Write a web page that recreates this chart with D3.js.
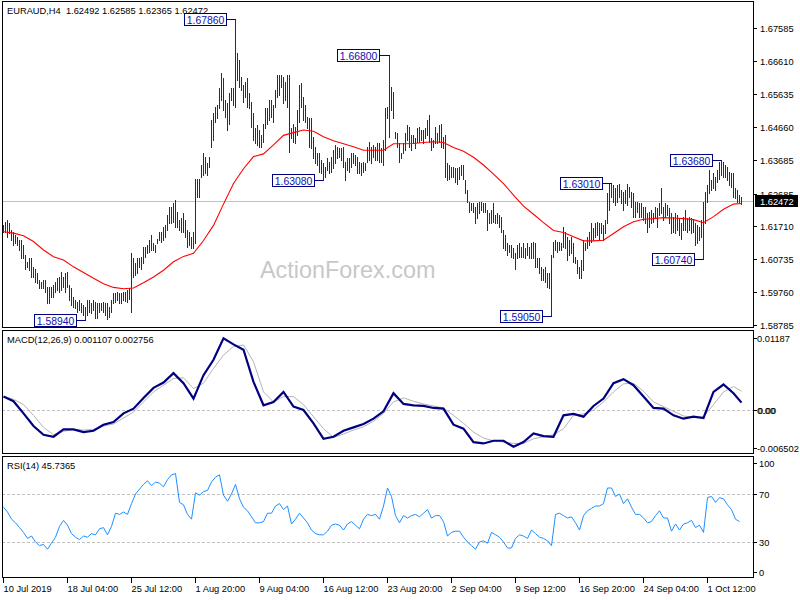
<!DOCTYPE html>
<html><head><meta charset="utf-8">
<script src="https://cdn.jsdelivr.net/npm/d3@7"></script>
<style>
body{margin:0;background:#fff}
svg{display:block}
text{font-family:"Liberation Sans",Arial,sans-serif}
</style>
</head><body>
<svg id="c" width="800" height="600"></svg>
<script>
// ---------------- DATA ----------------
const symbolTitle = "EURAUD,H4  1.62492 1.62585 1.62365 1.62472";
const lastPrice = 1.62472;
const highs = [
1.6175,1.6185,1.6190,1.6180,1.6160,1.6155,1.6145,1.6140,1.6130,1.6130,
1.6116,1.6086,1.6066,1.6076,1.6076,1.6051,1.6046,1.6032,1.6012,1.6007,
1.6012,1.6012,1.5992,1.5992,1.5992,1.5997,1.6007,1.6017,1.6022,1.6036,
1.6022,1.6032,1.6036,1.5997,1.5987,1.5962,1.5953,1.5948,1.5953,1.5943,
1.5938,1.5933,1.5953,1.5953,1.5943,1.5953,1.5948,1.5943,1.5943,1.5945,
1.5948,1.5943,1.5943,1.5933,1.5953,1.5972,1.5972,1.5977,1.5974,1.5972,
1.5977,1.5977,1.5982,1.5987,1.6091,1.6076,1.6061,1.6076,1.6076,1.6081,
1.6111,1.6111,1.6116,1.6130,1.6145,1.6121,1.6116,1.6135,1.6155,1.6155,
1.6170,1.6175,1.6205,1.6229,1.6229,1.6239,1.6249,1.6215,1.6190,1.6195,
1.6210,1.6190,1.6160,1.6155,1.6140,1.6155,1.6313,1.6313,1.6313,1.6353,
1.6388,1.6378,1.6358,1.6378,1.6486,1.6506,1.6526,1.6531,1.6580,1.6625,
1.6610,1.6546,1.6536,1.6566,1.6580,1.6580,1.6786,1.6684,1.6664,1.6615,
1.6590,1.6600,1.6610,1.6566,1.6541,1.6506,1.6462,1.6472,1.6457,1.6442,
1.6476,1.6521,1.6521,1.6546,1.6546,1.6531,1.6575,1.6620,1.6620,1.6620,
1.6615,1.6600,1.6620,1.6620,1.6462,1.6476,1.6467,1.6516,1.6590,1.6595,
1.6556,1.6531,1.6496,1.6491,1.6491,1.6437,1.6407,1.6388,1.6388,1.6368,
1.6358,1.6348,1.6373,1.6363,1.6378,1.6397,1.6412,1.6407,1.6402,1.6402,
1.6407,1.6363,1.6373,1.6373,1.6388,1.6388,1.6383,1.6378,1.6363,1.6358,
1.6363,1.6358,1.6407,1.6422,1.6407,1.6412,1.6407,1.6417,1.6417,1.6402,
1.6427,1.6521,1.6526,1.6680,1.6585,1.6570,1.6452,1.6447,1.6417,1.6388,
1.6417,1.6447,1.6471,1.6467,1.6442,1.6442,1.6432,1.6462,1.6467,1.6457,
1.6457,1.6462,1.6486,1.6501,1.6432,1.6427,1.6467,1.6447,1.6471,1.6476,
1.6437,1.6442,1.6358,1.6353,1.6348,1.6348,1.6343,1.6343,1.6348,1.6353,
1.6353,1.6308,1.6279,1.6244,1.6239,1.6239,1.6229,1.6239,1.6244,1.6244,
1.6239,1.6239,1.6220,1.6210,1.6220,1.6239,1.6205,1.6210,1.6205,1.6200,
1.6160,1.6145,1.6121,1.6116,1.6116,1.6106,1.6091,1.6116,1.6121,1.6111,
1.6121,1.6106,1.6121,1.6111,1.6121,1.6125,1.6121,1.6076,1.6076,1.6051,
1.6046,1.6051,1.6032,1.6032,1.6086,1.6125,1.6130,1.6125,1.6125,1.6121,
1.6170,1.6155,1.6140,1.6130,1.6140,1.6121,1.6081,1.6071,1.6051,1.6071,
1.6130,1.6121,1.6140,1.6155,1.6180,1.6165,1.6180,1.6185,1.6180,1.6180,
1.6175,1.6190,1.6269,1.6298,1.6301,1.6293,1.6284,1.6293,1.6298,1.6279,
1.6274,1.6279,1.6298,1.6289,1.6274,1.6269,1.6244,1.6244,1.6239,1.6239,
1.6229,1.6229,1.6210,1.6215,1.6220,1.6210,1.6229,1.6225,1.6239,1.6284,
1.6229,1.6239,1.6234,1.6225,1.6210,1.6200,1.6210,1.6205,1.6195,1.6180,
1.6200,1.6220,1.6195,1.6200,1.6195,1.6190,1.6180,1.6175,1.6170,1.6190,
1.6244,1.6274,1.6293,1.6338,1.6308,1.6328,1.6318,1.6338,1.6363,1.6368,
1.6363,1.6353,1.6348,1.6333,1.6328,1.6328,1.6284,1.6279,1.6264,1.6259
];
const lows = [
1.6155,1.6155,1.6140,1.6150,1.6130,1.6116,1.6121,1.6116,1.6101,1.6076,
1.6076,1.6046,1.6051,1.6041,1.6022,1.6022,1.6007,1.6002,1.5987,1.5987,
1.5987,1.5977,1.5945,1.5945,1.5962,1.5962,1.5977,1.5982,1.5977,1.5982,
1.5992,1.5977,1.5992,1.5953,1.5938,1.5933,1.5928,1.5918,1.5923,1.5918,
1.5908,1.5894,1.5908,1.5918,1.5913,1.5923,1.5898,1.5898,1.5918,1.5923,
1.5918,1.5908,1.5897,1.5903,1.5918,1.5943,1.5948,1.5953,1.5943,1.5945,
1.5953,1.5950,1.5948,1.5957,1.5918,1.6022,1.6027,1.6032,1.6051,1.6046,
1.6061,1.6081,1.6091,1.6096,1.6101,1.6101,1.6096,1.6121,1.6130,1.6125,
1.6130,1.6140,1.6160,1.6180,1.6180,1.6185,1.6170,1.6170,1.6160,1.6155,
1.6155,1.6140,1.6111,1.6116,1.6106,1.6106,1.6121,1.6259,1.6259,1.6318,
1.6323,1.6328,1.6323,1.6348,1.6407,1.6427,1.6481,1.6491,1.6521,1.6546,
1.6516,1.6496,1.6457,1.6476,1.6546,1.6531,1.6526,1.6605,1.6585,1.6575,
1.6541,1.6556,1.6526,1.6521,1.6467,1.6427,1.6417,1.6412,1.6407,1.6407,
1.6422,1.6462,1.6476,1.6486,1.6496,1.6481,1.6526,1.6556,1.6561,1.6585,
1.6536,1.6546,1.6526,1.6393,1.6432,1.6422,1.6417,1.6442,1.6481,1.6526,
1.6486,1.6481,1.6462,1.6407,1.6402,1.6373,1.6358,1.6353,1.6333,1.6328,
1.6308,1.6318,1.6338,1.6328,1.6333,1.6343,1.6358,1.6373,1.6378,1.6368,
1.6348,1.6310,1.6338,1.6333,1.6348,1.6358,1.6353,1.6328,1.6328,1.6323,
1.6333,1.6338,1.6363,1.6368,1.6358,1.6378,1.6368,1.6368,1.6363,1.6363,
1.6353,1.6397,1.6491,1.6437,1.6516,1.6491,1.6432,1.6407,1.6363,1.6373,
1.6388,1.6397,1.6427,1.6407,1.6397,1.6417,1.6402,1.6422,1.6422,1.6427,
1.6417,1.6432,1.6442,1.6422,1.6397,1.6407,1.6417,1.6417,1.6422,1.6407,
1.6402,1.6318,1.6308,1.6313,1.6318,1.6318,1.6303,1.6298,1.6313,1.6323,
1.6313,1.6269,1.6244,1.6215,1.6220,1.6215,1.6180,1.6195,1.6210,1.6220,
1.6215,1.6215,1.6160,1.6180,1.6180,1.6185,1.6180,1.6180,1.6170,1.6155,
1.6106,1.6101,1.6086,1.6096,1.6081,1.6076,1.6046,1.6076,1.6081,1.6081,
1.6081,1.6076,1.6086,1.6076,1.6076,1.6076,1.6051,1.6051,1.6032,1.6012,
1.6012,1.6007,1.5992,1.5987,1.5905,1.6081,1.6101,1.6096,1.6101,1.6101,
1.6111,1.6106,1.6071,1.6086,1.6091,1.6066,1.6061,1.6032,1.6017,1.6017,
1.6041,1.6101,1.6106,1.6116,1.6125,1.6130,1.6140,1.6145,1.6135,1.6150,
1.6130,1.6150,1.6180,1.6220,1.6259,1.6244,1.6234,1.6244,1.6259,1.6239,
1.6220,1.6239,1.6234,1.6259,1.6229,1.6200,1.6200,1.6215,1.6200,1.6200,
1.6190,1.6180,1.6155,1.6170,1.6180,1.6185,1.6195,1.6170,1.6205,1.6210,
1.6190,1.6200,1.6205,1.6180,1.6150,1.6155,1.6150,1.6160,1.6145,1.6135,
1.6160,1.6160,1.6155,1.6160,1.6150,1.6155,1.6116,1.6121,1.6130,1.6140,
1.6074,1.6180,1.6244,1.6269,1.6279,1.6284,1.6279,1.6303,1.6313,1.6323,
1.6318,1.6318,1.6308,1.6293,1.6289,1.6259,1.6254,1.6244,1.6244,1.6237
];
// moving average, read every 5 bars (last point = last bar)
const maValues = [
1.6155,1.6151,1.6143,1.6126,1.6101,1.6081,1.6071,1.6051,1.6034,1.6017,
1.6001,1.5990,1.5986,1.5988,1.6004,1.6021,1.6041,1.6066,1.6082,1.6091,
1.6129,1.6174,1.6237,1.6298,1.6342,1.6378,1.6386,1.6413,1.6441,1.6449,
1.6457,1.6453,1.6437,1.6425,1.6416,1.6407,1.6397,1.6397,1.6397,1.6416,
1.6416,1.6417,1.6420,1.6422,1.6420,1.6405,1.6394,1.6376,1.6353,1.6326,
1.6298,1.6264,1.6231,1.6207,1.6182,1.6159,1.6153,1.6140,1.6128,1.6128,
1.6130,1.6150,1.6170,1.6185,1.6192,1.6194,1.6197,1.6196,1.6194,1.6191,
1.6182,1.6200,1.6222,1.6237,1.6239
];
// MACD main and signal, read every 5 bars
const macdMain = [
0.0020,0.0013,-0.0005,-0.0024,-0.0037,-0.0040,-0.0029,-0.0029,-0.0033,-0.0031,
-0.0022,-0.0018,-0.0005,0.0002,0.0018,0.0033,0.0041,0.0055,0.0040,0.0017,
0.0052,0.0075,0.0107,0.0098,0.0090,0.0042,0.0007,0.0012,0.0027,0.0005,
0.0000,-0.0020,-0.0043,-0.0040,-0.0031,-0.0026,-0.0021,-0.0013,-0.0002,0.0025,
0.0009,0.0007,0.0006,0.0003,0.0002,-0.0022,-0.0028,-0.0048,-0.0050,-0.0046,
-0.0046,-0.0055,-0.0048,-0.0035,-0.0039,-0.0040,-0.0008,-0.0006,-0.0010,0.0006,
0.0017,0.0040,0.0046,0.0037,0.0020,0.0003,0.0002,-0.0008,-0.0013,-0.0010,
-0.0012,0.0027,0.0038,0.0025,0.0011
];
const macdSignal = [
0.0020,0.0016,0.0008,-0.0008,-0.0026,-0.0037,-0.0032,-0.0029,-0.0030,-0.0029,
-0.0024,-0.0021,-0.0012,-0.0003,0.0012,0.0027,0.0037,0.0047,0.0048,0.0032,
0.0040,0.0062,0.0082,0.0095,0.0097,0.0072,0.0027,0.0012,0.0020,0.0020,
0.0008,-0.0010,-0.0028,-0.0041,-0.0036,-0.0030,-0.0025,-0.0017,-0.0005,0.0012,
0.0018,0.0013,0.0009,0.0006,0.0003,-0.0008,-0.0020,-0.0033,-0.0042,-0.0046,
-0.0048,-0.0050,-0.0050,-0.0043,-0.0040,-0.0037,-0.0028,-0.0008,-0.0006,0.0000,
0.0012,0.0027,0.0039,0.0040,0.0028,0.0012,0.0005,-0.0002,-0.0009,-0.0011,
-0.0010,0.0008,0.0027,0.0035,0.0028
];
// RSI(14), read every 2 bars
const rsiValues = [
59,55,49,46,42,38,33,35,30,27,
28,24,29,34,43,48,44,37,34,32,
35,34,37,36,41,42,36,43,54,53,
55,53,62,70,74,78,81,77,80,79,
76,82,86,87,63,61,53,49,71,69,
72,73,80,84,86,69,64,70,78,66,
59,56,51,46,46,47,54,54,60,62,
57,60,45,49,54,50,46,40,37,36,
36,39,44,45,44,40,45,47,44,41,
49,53,52,53,49,60,75,68,52,46,
52,50,52,53,51,54,57,50,52,52,
47,35,38,39,39,34,30,27,24,30,
31,29,38,36,34,30,25,25,33,36,
35,33,40,37,34,33,31,27,53,54,
52,50,51,46,40,52,56,58,60,60,
62,75,75,68,70,62,66,59,53,53,
50,46,47,52,56,50,50,39,45,40,
45,46,48,42,44,38,67,68,63,67,
66,61,57,49,47
];
const priceTicks = [1.67585,1.66610,1.65635,1.64660,1.63685,1.62685,1.61710,1.60735,1.59760,1.58785];
const macdTicks = ["0.01187","0.00","-0.006502"];
const macdHeader = "MACD(12,26,9) 0.001107 0.002756";
const rsiTicks = [100,70,30,0];
const rsiHeader = "RSI(14) 45.7365";
const dateLabels = ["10 Jul 2019","18 Jul 04:00","25 Jul 12:00","1 Aug 20:00","9 Aug 04:00","16 Aug 12:00","23 Aug 20:00","2 Sep 04:00","9 Sep 12:00","16 Sep 20:00","24 Sep 04:00","1 Oct 12:00"];
const dateBars = [0,32,64,96,128,160,192,224,256,288,320,352];
const annoBars = [41,116,160,193,274,304,350,359];
const annoText = ["1.58940","1.67860","1.63080","1.66800","1.59050","1.63010","1.60740","1.63680"];
const annoPrice = [1.58940,1.67860,1.63080,1.66800,1.59050,1.63010,1.60740,1.63680];

// ---------------- DRAW ----------------
const svg = d3.select("#c");
const n = highs.length;
const x = d3.scaleLinear().domain([0, n - 1]).range([3.5, 741.5]);
const yMain = d3.scaleLinear().domain([1.58785, 1.67585]).range([325, 28.3]);
const yMacd = d3.scaleLinear().domain([-0.006502, 0.01187]).range([453.5, 330.5]);
const yRsi = d3.scaleLinear().domain([0, 100]).range([578, 458]);
const px = v => Math.round(v) + 0.5;

const panels = [
  {id:"pm", y0:1.5, y1:327.5},
  {id:"pd", y0:330.5, y1:453.5},
  {id:"pr", y0:456.5, y1:577.5}
];
const defs = svg.append("defs");
panels.forEach(p => {
  defs.append("clipPath").attr("id", p.id).append("rect")
    .attr("x", 3).attr("y", p.y0 + 0.5).attr("width", 750).attr("height", p.y1 - p.y0 - 1);
});

// main panel
const gm = svg.append("g").attr("clip-path", "url(#pm)");
gm.append("text").attr("x", 260).attr("y", 278).attr("font-size", 23.4)
  .attr("fill", "#c8c8c8").text("ActionForex.com");
gm.append("line").attr("x1", 2).attr("x2", 754)
  .attr("y1", px(yMain(lastPrice))).attr("y2", px(yMain(lastPrice)))
  .attr("stroke", "#c0c0c0");
gm.selectAll("line.bar").data(d3.range(n)).join("line").attr("class", "bar")
  .attr("x1", i => x(i)).attr("x2", i => x(i))
  .attr("y1", i => Math.round(yMain(highs[i])))
  .attr("y2", i => Math.round(yMain(lows[i])) + 1)
  .attr("stroke", "#0c3756").attr("stroke-width", 1);
const maIdx = j => Math.min(j * 5, n - 1);
gm.append("path").datum(maValues)
  .attr("d", d3.line().x((d, j) => x(maIdx(j))).y(d => yMain(d)))
  .attr("fill", "none").attr("stroke", "#ff0000").attr("stroke-width", 1.1);

// annotations
const ga = svg.append("g");
annoBars.forEach((b, k) => {
  const bx = x(b), by = px(yMain(annoPrice[k]));
  const w = 42, h = 12;
  const left = Math.round(bx - 10 - w) + 0.5;
  ga.append("line").attr("x1", left + w).attr("x2", bx).attr("y1", by).attr("y2", by)
    .attr("stroke", "#000080");
  ga.append("rect").attr("x", left).attr("y", by - 6).attr("width", w).attr("height", h)
    .attr("fill", "#fff").attr("stroke", "#000080");
  ga.append("text").attr("x", left + w / 2).attr("y", by + 4).attr("text-anchor", "middle")
    .attr("font-size", 10.4).attr("fill", "#1010b0").text(annoText[k]);
});

// MACD panel
const gd = svg.append("g").attr("clip-path", "url(#pd)");
gd.append("line").attr("x1", 2).attr("x2", 754).attr("y1", px(yMacd(0))).attr("y2", px(yMacd(0)))
  .attr("stroke", "#c0c0c0").attr("stroke-dasharray", "3,2");
const mIdx = j => Math.min(j * 5, n - 1);
gd.append("path").datum(macdSignal)
  .attr("d", d3.line().x((d, j) => x(mIdx(j))).y(d => yMacd(d)))
  .attr("fill", "none").attr("stroke", "#b4b4b4").attr("stroke-width", 1);
gd.append("path").datum(macdMain)
  .attr("d", d3.line().x((d, j) => x(mIdx(j))).y(d => yMacd(d)))
  .attr("fill", "none").attr("stroke", "#000080").attr("stroke-width", 2.2);

// RSI panel
const gr = svg.append("g").attr("clip-path", "url(#pr)");
[70, 30].forEach(v => gr.append("line").attr("x1", 2).attr("x2", 754)
  .attr("y1", px(yRsi(v))).attr("y2", px(yRsi(v)))
  .attr("stroke", "#c0c0c0").attr("stroke-dasharray", "3,2"));
gr.append("path").datum(rsiValues)
  .attr("d", d3.line().x((d, j) => x(j * 2)).y(d => yRsi(d)))
  .attr("fill", "none").attr("stroke", "#1e90ff").attr("stroke-width", 1);

// frames
panels.forEach(p => svg.append("rect").attr("x", 2.5).attr("y", p.y0)
  .attr("width", 751).attr("height", p.y1 - p.y0)
  .attr("fill", "none").attr("stroke", "#000"));

// headers
const hdr = (t, y) => svg.append("text").attr("x", 7).attr("y", y).attr("font-size", 9.3)
  .style("white-space", "pre").attr("fill", "#000").text(t);
hdr(symbolTitle, 14);
hdr(macdHeader, 343);
hdr(rsiHeader, 469);

// right price axis
const ax = svg.append("g");
priceTicks.forEach(v => {
  const yy = px(yMain(v));
  ax.append("line").attr("x1", 754).attr("x2", 757).attr("y1", yy).attr("y2", yy).attr("stroke", "#000");
  ax.append("text").attr("x", 760).attr("y", yy + 3.5).attr("font-size", 9.3).text(v.toFixed(5));
});
const ly = px(yMain(lastPrice));
ax.append("rect").attr("x", 755).attr("y", ly - 6.5).attr("width", 43).attr("height", 12).attr("fill", "#000");
ax.append("text").attr("x", 760).attr("y", ly + 3.5).attr("font-size", 9.3).attr("fill", "#fff").text(lastPrice.toFixed(5));

// MACD axis
const macdPos = [yMacd(0.01187) + 7.5, yMacd(0), yMacd(-0.006502) - 6];
macdTicks.forEach((t, k) => {
  const yy = px(macdPos[k]);
  ax.append("line").attr("x1", 754).attr("x2", 757).attr("y1", yy).attr("y2", yy).attr("stroke", "#000");
  ax.append("text").attr("x", 757).attr("y", yy + 3.5).attr("font-size", 9.3).text(t);
  if (t === "0.00") ax.append("text").attr("x", 758).attr("y", yy + 3.5).attr("font-size", 9.3).text(t);
});
// RSI axis
rsiTicks.forEach(v => {
  let yy = yRsi(v);
  if (v === 100) yy += 5; if (v === 0) yy -= 6;
  yy = px(yy);
  ax.append("line").attr("x1", 754).attr("x2", 757).attr("y1", yy).attr("y2", yy).attr("stroke", "#000");
  ax.append("text").attr("x", 759).attr("y", yy + 3.5).attr("font-size", 9.3).text(v);
});

// time axis
dateBars.forEach((b, k) => {
  const xx = x(b);
  ax.append("line").attr("x1", xx).attr("x2", xx).attr("y1", 578).attr("y2", 583).attr("stroke", "#000");
  ax.append("text").attr("x", xx).attr("y", 592).attr("font-size", 9.3).text(dateLabels[k]);
});
</script>
</body></html>
